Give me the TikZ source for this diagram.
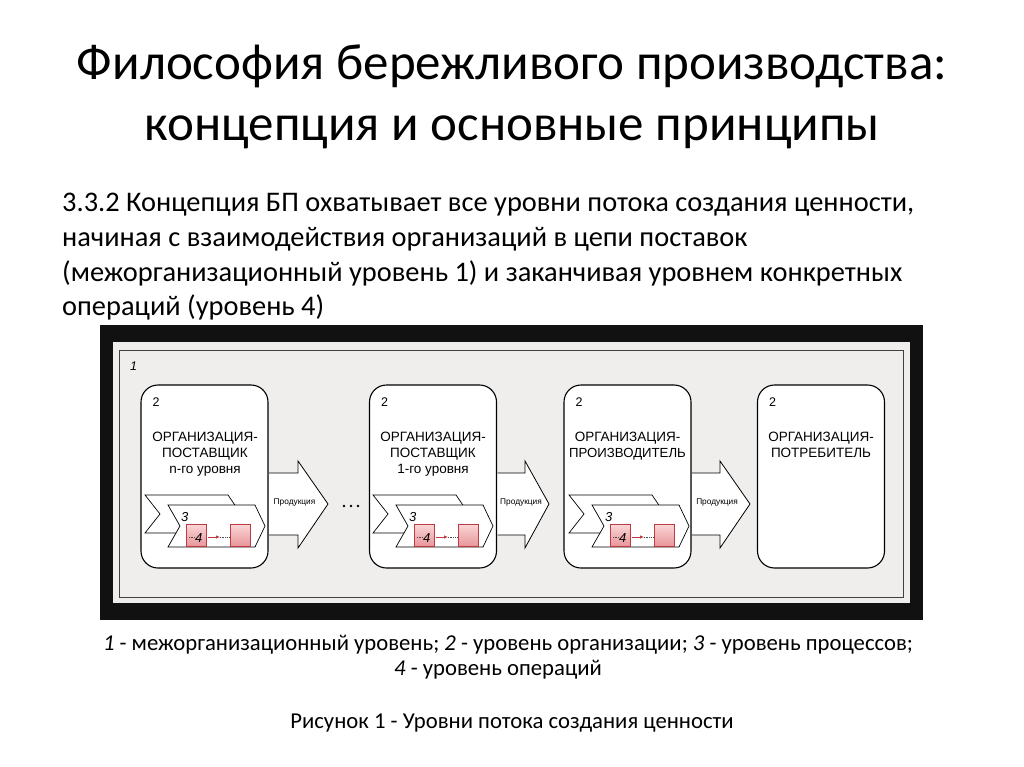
\documentclass[tikz,border=0pt]{standalone}
\usepackage{fontspec}
\setmainfont{Carlito}
\newfontfamily\arialf{Liberation Sans}
\definecolor{panel}{RGB}{240,238,237}
\definecolor{frameblk}{RGB}{17,17,17}
\definecolor{sqborder}{RGB}{190,60,65}
\definecolor{sqtop}{RGB}{250,215,215}
\definecolor{sqbot}{RGB}{232,150,155}
\tikzset{
  orgbox/.style={draw=black, line width=1.1pt, fill=white, rounded corners=17pt, minimum width=127pt, minimum height=183pt, inner sep=0pt},
  bigarrow/.style={draw=black, line width=0.8pt, fill=white, line join=miter},
  chev/.style={draw=black, line width=0.7pt, fill=white, line join=miter},
  opsq/.style={draw=sqborder, line width=0.7pt, top color=sqtop, bottom color=sqbot, minimum width=20pt, minimum height=22pt, inner sep=0pt},
  orglbl/.style={font=\arialf\fontsize{13.5}{15}\selectfont, inner sep=0pt, anchor=base},
  numlbl/.style={font=\arialf\itshape\fontsize{12.5}{14}\selectfont, inner sep=0pt, anchor=base west},
  prodlbl/.style={font=\arialf\fontsize{8.3}{10}\selectfont, inner sep=0pt},
  titletxt/.style={font=\fontsize{51}{52}\selectfont, inner sep=0pt, anchor=base},
  bodytxt/.style={font=\fontsize{28.4}{34}\selectfont, inner sep=0pt, anchor=base west},
  captxt/.style={font=\fontsize{22.7}{26}\selectfont, inner sep=0pt, anchor=base}
}
\usetikzlibrary{arrows.meta}
\newcommand\procgrp[2]{%
  \begin{scope}[xshift=#1pt]
    \draw[chev] (4,495) -- (87,495) -- (100,514) -- (87,533) -- (4,533) -- (19,514) -- cycle;
    \draw[chev] (27,505) -- (114,505) -- (124,526) -- (114,547) -- (27,547) -- (39,526) -- cycle;
    \node[numlbl, font=\arialf\itshape\fontsize{13}{14}\selectfont] (three#2) at (40,521) {3};
    \node[opsq] (sqa#2) at (55,535) {};
    \node[opsq] (sqb#2) at (99,535) {};
    \node[numlbl, font=\arialf\itshape\fontsize{13}{14}\selectfont] (four#2) at (54,542) {4};
    \coordinate (da#2) at (48,537);
    \coordinate (ra#2) at (67,537);
    \coordinate (rb#2) at (79,537);
    \draw[densely dotted, line width=0.7pt, black!70] (da#2) -- (four#2.west |- da#2);
    \draw[-{Latex[length=4pt,width=3.5pt]}, sqborder, line width=1pt] (ra#2) -- (rb#2);
    \draw[densely dotted, line width=0.7pt, black!70] (rb#2) -- (sqb#2.west |- rb#2);
  \end{scope}}
\begin{document}
\begin{tikzpicture}[x=1pt,y=-1pt]
\useasboundingbox[fill=white] (0,0) rectangle (1024,767);
% title
\node[titletxt] (t1) at (512,80) {Философия бережливого производства:};
\node[titletxt] (t2) at (512,141) {концепция и основные принципы};
% body
\node[bodytxt] (b1) at (62,212) {3.3.2 Концепция БП охватывает все уровни потока создания ценности,};
\node[bodytxt] (b2) at (62,246.5) {начиная с взаимодействия организаций в цепи поставок};
\node[bodytxt] (b3) at (62,281) {(межорганизационный уровень 1) и заканчивая уровнем конкретных};
\node[bodytxt] (b4) at (62,315) {операций (уровень 4)};
% frame
\fill[frameblk] (100,325) rectangle (923,620);
\fill[panel] (113,342) rectangle (910,603);
\draw[line width=0.9pt, black!75] (119,350) rectangle (903,597);
\node[numlbl] (one) at (130,370) {1};
% organisation boxes
\node[orgbox] (org1) at (204.5,476.5) {};
\node[orgbox] (org2) at (433,476.5) {};
\node[orgbox] (org3) at (627.5,476.5) {};
\node[orgbox] (org4) at (821,476.5) {};
\foreach \i in {1,...,4}{
  \node[numlbl, font=\arialf\fontsize{12.5}{14}\selectfont] (two\i) at ([xshift=12pt,yshift=-22pt]org\i.north west) {2};
}
% labels
\node[orglbl] (l1a) at (205,441) {ОРГАНИЗАЦИЯ-};
\node[orglbl] (l1b) at (205,457) {ПОСТАВЩИК};
\node[orglbl] (l1c) at (205,473) {n-го уровня};
\node[orglbl] (l2a) at (433,441) {ОРГАНИЗАЦИЯ-};
\node[orglbl] (l2b) at (433,457) {ПОСТАВЩИК};
\node[orglbl] (l2c) at (433,473) {1-го уровня};
\node[orglbl] (l3a) at (627.5,441) {ОРГАНИЗАЦИЯ-};
\node[orglbl, font=\arialf\fontsize{13.2}{15}\selectfont] (l3b) at (627.5,457) {ПРОИЗВОДИТЕЛЬ};
\node[orglbl] (l4a) at (821,441) {ОРГАНИЗАЦИЯ-};
\node[orglbl] (l4b) at (821,457) {ПОТРЕБИТЕЛЬ};
% process chevrons
\procgrp{141}{1}
\procgrp{369}{2}
\procgrp{565}{3}
% big arrows
\draw[bigarrow] ([xshift=0.6pt]org1.east |- 0,473) -- (298,473) -- (298,461) -- (328,504) -- (298,548) -- (298,535) -- ([xshift=0.6pt]org1.east |- 0,535);
\draw[bigarrow] ([xshift=0.6pt]org2.east |- 0,473) -- (525,473) -- (525,461) -- (549,504) -- (525,548) -- (525,535) -- ([xshift=0.6pt]org2.east |- 0,535);
\draw[bigarrow] ([xshift=0.6pt]org3.east |- 0,473) -- (720,473) -- (720,461) -- (750,504) -- (720,548) -- (720,535) -- ([xshift=0.6pt]org3.east |- 0,535);
\node[prodlbl] (p1) at (294.5,503) {Продукция};
\node[prodlbl] (p2) at (521,503) {Продукция};
\node[prodlbl] (p3) at (717,503) {Продукция};
% dots
\foreach \x in {344,351,358}{\fill (\x,506) circle (1.3pt);}
% captions
\node[captxt] (c1) at (508,650) {\textit{1} - межорганизационный уровень; \textit{2} - уровень организации; \textit{3} - уровень процессов;};
\node[captxt] (c2) at (498,675) {\textit{4} - уровень операций};
\node[captxt] (c3) at (512,728) {Рисунок 1 - Уровни потока создания ценности};
\end{tikzpicture}
\end{document}
